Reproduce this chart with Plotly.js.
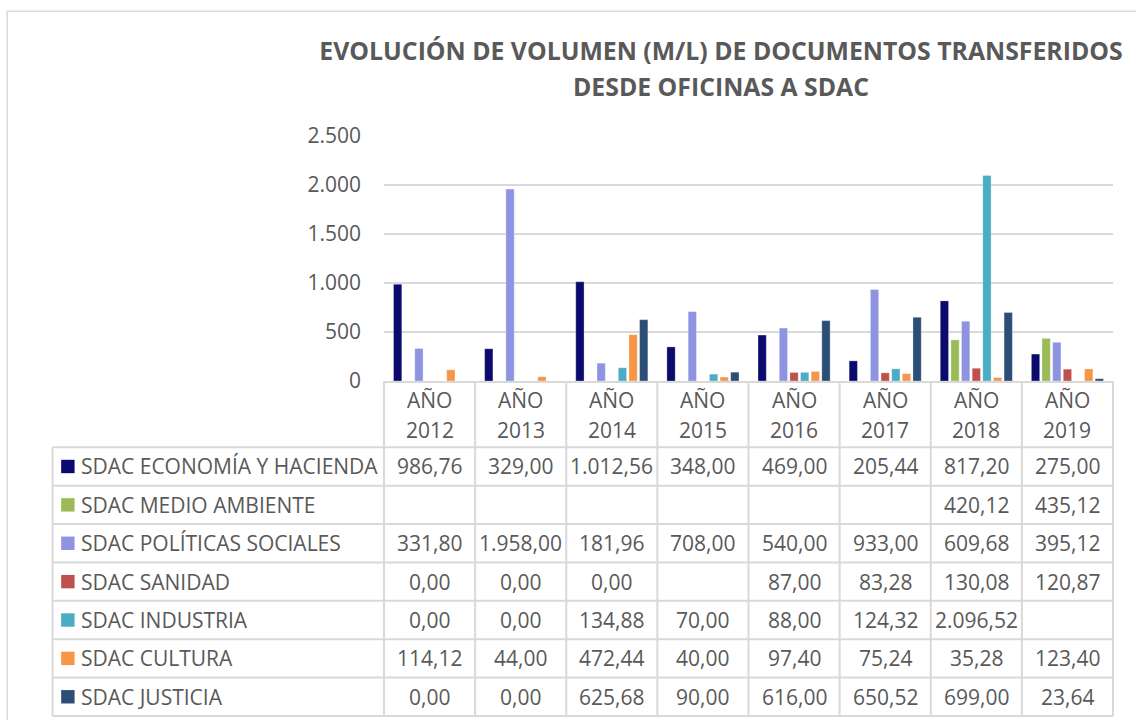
<!DOCTYPE html>
<html>
<head>
<meta charset="utf-8">
<script src="https://cdn.plot.ly/plotly-3.0.1.min.js"></script>
<style>html,body{margin:0;padding:0;background:#fff;}#chart{width:1136px;height:720px;}</style>
</head>
<body>
<div id="chart"></div>
<script>
// ---- Data ----
const categories = ['AÑO 2012','AÑO 2013','AÑO 2014','AÑO 2015','AÑO 2016','AÑO 2017','AÑO 2018','AÑO 2019'];
const seriesNames = ['SDAC ECONOMÍA Y HACIENDA','SDAC MEDIO AMBIENTE','SDAC POLÍTICAS SOCIALES','SDAC SANIDAD','SDAC INDUSTRIA','SDAC CULTURA','SDAC JUSTICIA'];
const economia      = [986.76, 329.00, 1012.56, 348.00, 469.00, 205.44, 817.20, 275.00];
const medioAmbiente = [null, null, null, null, null, null, 420.12, 435.12];
const politicas     = [331.80, 1958.00, 181.96, 708.00, 540.00, 933.00, 609.68, 395.12];
const sanidad       = [0.00, 0.00, 0.00, null, 87.00, 83.28, 130.08, 120.87];
const industria     = [0.00, 0.00, 134.88, 70.00, 88.00, 124.32, 2096.52, null];
const cultura       = [114.12, 44.00, 472.44, 40.00, 97.40, 75.24, 35.28, 123.40];
const justicia      = [0.00, 0.00, 625.68, 90.00, 616.00, 650.52, 699.00, 23.64];
const titleLines = ['EVOLUCIÓN DE VOLUMEN (M/L) DE DOCUMENTOS TRANSFERIDOS','DESDE OFICINAS A SDAC'];

const allSeries = [economia, medioAmbiente, politicas, sanidad, industria, cultura, justicia];

// ---- Styles ----
const colors = ['#0b0b6f','#9bbb59','#8f94e2','#c0504d','#4bacc6','#f79646','#2c4d75'];
const textColor = '#595959';
const lineColor = '#d9d9d9';
const FONT = 'Open Sans, Lato, sans-serif';
const W = 1136, H = 720;
const L = 384, R = 1112.7, T = 136, B = 381;
const px2x = p => (p - L) / (R - L);
const px2y = p => (B - p) / (B - T);
const tableLeft = 52.7, headerBottom = 447.3, rowH = 38.38;

function fmt(v) {
  if (v === null || v === undefined) return '';
  let parts = v.toFixed(2).split('.');
  let i = parts[0].replace(/\B(?=(\d{3})+(?!\d))/g, '.');
  return i + ',' + parts[1];
}

const traces = allSeries.map((vals, k) => ({
  type: 'bar',
  x: categories,
  y: vals,
  name: seriesNames[k],
  marker: {color: colors[k], line: {color: 'rgba(255,255,255,0.5)', width: 0.6}},
  showlegend: false,
  hoverinfo: 'x+y+name'
}));

const shapes = [];
const annotations = [];

// outer chart border
shapes.push({type:'rect', xref:'paper', yref:'paper', x0: px2x(7.3), x1: px2x(1150), y0: px2y(740), y1: px2y(11.3),
  line:{color:lineColor, width:1.5}, fillcolor:'rgba(0,0,0,0)', layer:'below'});

const nRows = seriesNames.length;
const nCols = categories.length;
const tableBottom = headerBottom + nRows * rowH;

// horizontal row lines
for (let r = 0; r <= nRows; r++) {
  const y = px2y(headerBottom + r * rowH);
  shapes.push({type:'line', xref:'paper', yref:'paper', x0: px2x(tableLeft), x1: 1, y0: y, y1: y,
    line:{color:lineColor, width:2}});
}
// left border of table
shapes.push({type:'line', xref:'paper', yref:'paper', x0: px2x(tableLeft), x1: px2x(tableLeft),
  y0: px2y(headerBottom), y1: px2y(tableBottom), line:{color:lineColor, width:2}});
// column lines
for (let c = 0; c <= nCols; c++) {
  const x = c / nCols;
  shapes.push({type:'line', xref:'paper', yref:'paper', x0: x, x1: x, y0: 0, y1: px2y(tableBottom),
    line:{color:lineColor, width:2}});
}

// header labels
categories.forEach((cat, c) => {
  const parts = cat.split(' ');
  annotations.push({xref:'x', yref:'paper', x: cat, y: px2y(400), text: parts[0], showarrow:false,
    xanchor:'center', yanchor:'middle', font:{family:FONT, size:21, color:textColor}});
  annotations.push({xref:'x', yref:'paper', x: cat, y: px2y(430), text: parts[1], showarrow:false,
    xanchor:'center', yanchor:'middle', font:{family:FONT, size:21, color:textColor}});
});

// table rows
seriesNames.forEach((name, r) => {
  const yc = headerBottom + (r + 0.5) * rowH;
  shapes.push({type:'rect', xref:'paper', yref:'paper', x0: px2x(61.3), x1: px2x(74.7),
    y0: px2y(yc - 6.7), y1: px2y(yc + 6.7), line:{width:0}, fillcolor: colors[r]});
  annotations.push({xref:'paper', yref:'paper', x: px2x(79.5), y: px2y(yc), text: name, showarrow:false,
    xanchor:'left', yanchor:'middle', font:{family:FONT, size:21, color:textColor}});
  allSeries[r].forEach((v, c) => {
    const t = fmt(v);
    if (!t) return;
    annotations.push({xref:'x', yref:'paper', x: categories[c], y: px2y(yc), text: t, showarrow:false,
      xanchor:'center', yanchor:'middle', font:{family:FONT, size:21, color:textColor}});
  });
});

const layout = {
  width: W, height: H,
  paper_bgcolor: '#ffffff', plot_bgcolor: '#ffffff',
  separators: ',.',
  margin: {l: L, r: W - R, t: T, b: H - B, pad: 0},
  barmode: 'group',
  bargap: 0.183,
  bargroupgap: 0.22,
  title: {
    text: '<span style="font-size:24.8px">' + titleLines[0] + '</span><br><span style="font-size:24.8px">' + titleLines[1] + '</span>',
    font: {family: FONT, size: 27.7, color: textColor, weight: 'bold'},
    xref: 'container', x: 721 / W, xanchor: 'center',
    yref: 'container', y: 1 - 60 / H, yanchor: 'middle'
  },
  xaxis: {type:'category', showticklabels:false, showgrid:false, zeroline:false, ticks:'',
    showline:true, linecolor:lineColor, linewidth:2, fixedrange:true},
  yaxis: {range:[0, 2500], dtick:500, tickformat:',', showgrid:true, gridcolor:lineColor, gridwidth:2,
    zeroline:false, showline:false, ticks:'', ticklabelstandoff: 22,
    tickfont:{family:FONT, size:21, color:textColor}, fixedrange:true},
  shapes: shapes,
  annotations: annotations
};

Plotly.newPlot('chart', traces, layout, {displayModeBar:false, staticPlot:true});
</script>
</body>
</html>
